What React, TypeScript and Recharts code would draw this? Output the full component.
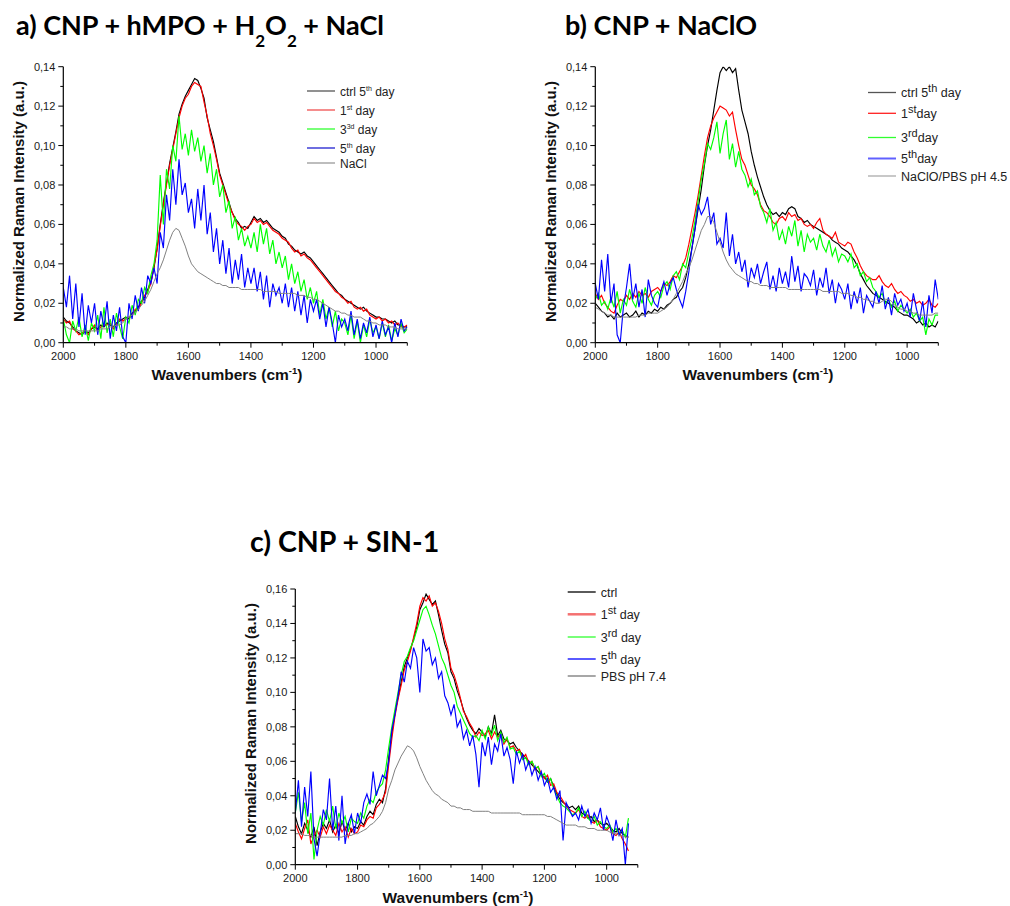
import { LineChart, Line, XAxis, YAxis } from 'recharts'

const wavenumbers = [
  2000, 1990, 1980, 1970, 1960, 1950, 1940, 1930, 1920, 1910,
  1900, 1890, 1880, 1870, 1860, 1850, 1840, 1830, 1820, 1810,
  1800, 1790, 1780, 1770, 1760, 1750, 1740, 1730, 1720, 1710,
  1700, 1690, 1680, 1670, 1660, 1650, 1640, 1630, 1620, 1610,
  1600, 1590, 1580, 1570, 1560, 1550, 1540, 1530, 1520, 1510,
  1500, 1490, 1480, 1470, 1460, 1450, 1440, 1430, 1420, 1410,
  1400, 1390, 1380, 1370, 1360, 1350, 1340, 1330, 1320, 1310,
  1300, 1290, 1280, 1270, 1260, 1250, 1240, 1230, 1220, 1210,
  1200, 1190, 1180, 1170, 1160, 1150, 1140, 1130, 1120, 1110,
  1100, 1090, 1080, 1070, 1060, 1050, 1040, 1030, 1020, 1010,
  1000, 990, 980, 970, 960, 950, 940, 930, 920, 910,
  900,
]

// a) CNP + hMPO + H2O2 + NaCl
const aCtrl = [
  .013, .011, .010, .008, .006, .005, .004, .006, .005, .007,
  .008, .007, .009, .008, .010, .009, .008, .010, .011, .012,
  .013, .012, .015, .016, .018, .021, .023, .027, .031, .038,
  .048, .060, .071, .081, .091, .099, .107, .116, .121, .125,
  .128, .131, .134, .133, .129, .124, .114, .108, .102, .094,
  .086, .081, .076, .071, .066, .063, .061, .058, .059, .058,
  .061, .064, .062, .063, .061, .062, .060, .058, .057, .056,
  .054, .053, .050, .049, .047, .046, .045, .046, .044, .043,
  .041, .039, .037, .035, .033, .031, .029, .027, .025, .024,
  .022, .021, .020, .019, .018, .017, .018, .016, .015, .014,
  .013, .013, .012, .012, .011, .010, .011, .009, .009, .008,
  .008,
]
const aDay1 = [
  .012, .010, .011, .007, .006, .004, .005, .006, .004, .007,
  .009, .006, .008, .009, .009, .010, .007, .009, .012, .011,
  .012, .013, .014, .017, .017, .020, .024, .026, .030, .039,
  .047, .059, .070, .080, .090, .098, .106, .114, .120, .124,
  .126, .130, .132, .131, .130, .122, .115, .106, .100, .093,
  .085, .080, .075, .070, .066, .062, .060, .059, .057, .059,
  .060, .063, .061, .062, .060, .061, .059, .057, .056, .055,
  .053, .052, .051, .048, .046, .047, .044, .045, .043, .042,
  .040, .038, .036, .034, .032, .030, .028, .026, .025, .023,
  .022, .020, .021, .018, .017, .018, .016, .017, .014, .013,
  .012, .013, .011, .012, .010, .011, .009, .010, .008, .008,
  .009,
]
const aDay3 = [
  .012, .004, .000, .011, .006, .013, .003, .009, .001, .010,
  .006, .014, .002, .018, .005, .012, .003, .015, .008, .002,
  .013, .010, .019, .014, .022, .020, .028, .025, .034, .040,
  .052, .085, .060, .088, .078, .100, .092, .115, .098, .106,
  .095, .108, .097, .104, .092, .100, .086, .096, .080, .088,
  .074, .080, .066, .072, .058, .064, .052, .058, .049, .054,
  .048, .056, .046, .060, .050, .058, .045, .052, .040, .046,
  .038, .044, .032, .040, .030, .036, .026, .032, .022, .028,
  .020, .026, .014, .022, .012, .018, .008, .016, .006, .012,
  .010, .004, .014, .002, .011, .000, .009, .003, .012, .005,
  .008, .002, .010, .003, .009, .001, .007, .004, .010, .005,
  .007,
]
const aDay5 = [
  .028, .018, .034, .012, .030, .008, .025, .004, .019, .010,
  .020, .004, .016, .008, .021, .002, .014, .006, .018, .003,
  .000, .020, .012, .024, .016, .028, .020, .034, .030, .038,
  .030, .056, .048, .075, .062, .088, .070, .093, .075, .081,
  .066, .073, .058, .078, .062, .080, .055, .066, .046, .058,
  .040, .052, .035, .048, .030, .042, .032, .045, .028, .038,
  .030, .038, .026, .036, .022, .034, .018, .030, .024, .028,
  .020, .030, .018, .028, .016, .026, .014, .024, .010, .022,
  .016, .022, .012, .020, .008, .018, .010, .000, .014, .008,
  .012, .006, .016, .004, .012, .002, .010, .005, .013, .003,
  .009, .002, .011, .004, .008, .000, .010, .003, .012, .006,
  .008,
]
const aNaCl = [
  .008, .008, .007, .007, .007, .006, .006, .006, .006, .006,
  .006, .006, .007, .007, .007, .008, .008, .009, .009, .010,
  .012, .013, .014, .015, .017, .019, .021, .024, .027, .031,
  .035, .038, .042, .047, .052, .056, .058, .057, .053, .049,
  .044, .040, .038, .036, .035, .034, .033, .032, .031, .030,
  .030, .029, .029, .028, .028, .028, .028, .027, .027, .027,
  .027, .027, .027, .027, .026, .026, .026, .026, .026, .025,
  .025, .025, .025, .025, .025, .024, .024, .024, .023, .023,
  .022, .022, .021, .020, .019, .018, .017, .016, .016, .015,
  .015, .014, .014, .013, .013, .013, .012, .011, .011, .010,
  .010, .009, .009, .009, .008, .008, .008, .007, .007, .007,
  .007,
]

// b) CNP + NaClO
const bCtrl = [
  .020, .018, .016, .015, .013, .014, .012, .015, .013, .014,
  .015, .013, .014, .016, .013, .015, .014, .016, .015, .017,
  .016, .018, .017, .019, .020, .022, .023, .026, .028, .033,
  .040, .048, .058, .068, .078, .090, .100, .108, .118, .128,
  .137, .140, .138, .140, .137, .139, .128, .118, .112, .106,
  .097, .090, .084, .079, .074, .070, .067, .065, .066, .064,
  .066, .065, .068, .069, .068, .064, .063, .061, .062, .060,
  .059, .058, .057, .056, .055, .054, .052, .051, .050, .048,
  .047, .046, .044, .042, .039, .035, .032, .029, .027, .025,
  .024, .023, .022, .021, .020, .019, .018, .016, .015, .014,
  .014, .013, .012, .010, .011, .009, .010, .008, .009, .008,
  .011,
]
const bDay1 = [
  .025, .022, .024, .020, .018, .016, .015, .019, .022, .021,
  .024, .022, .025, .023, .026, .024, .025, .023, .026, .027,
  .028, .026, .030, .029, .031, .034, .033, .036, .039, .043,
  .050, .058, .066, .075, .085, .095, .104, .110, .114, .117,
  .120, .119, .118, .115, .117, .108, .100, .093, .090, .085,
  .080, .078, .075, .070, .067, .066, .064, .061, .060, .063,
  .064, .062, .066, .064, .065, .062, .063, .060, .059, .060,
  .058, .061, .063, .057, .055, .054, .053, .056, .051, .050,
  .049, .051, .050, .046, .043, .039, .036, .034, .033, .032,
  .032, .034, .031, .029, .028, .030, .027, .025, .026, .024,
  .023, .021, .022, .020, .021, .019, .020, .022, .019, .018,
  .020,
]
const bDay3 = [
  .022, .025, .019, .021, .017, .023, .018, .026, .015, .022,
  .019, .027, .021, .018, .025, .020, .028, .022, .019, .024,
  .026, .023, .029, .031, .027, .034, .036, .032, .040, .038,
  .046, .053, .062, .072, .083, .091, .101, .098, .104, .112,
  .096, .106, .113, .093, .101, .089, .097, .088, .085, .079,
  .083, .075, .077, .069, .066, .061, .068, .057, .061, .052,
  .057, .050, .059, .054, .062, .049, .057, .046, .055, .051,
  .053, .047, .055, .049, .046, .052, .044, .048, .041, .045,
  .044, .041, .045, .038, .040, .034, .036, .031, .033, .028,
  .026, .023, .025, .020, .022, .018, .021, .016, .019, .017,
  .015, .017, .013, .015, .011, .013, .004, .012, .009, .014,
  .014,
]
const bDay5 = [
  .030, .022, .042, .026, .045, .020, .030, .004, .000, .018,
  .028, .040, .022, .030, .018, .027, .013, .032, .024, .020,
  .018, .026, .031, .024, .030, .033, .027, .022, .018, .026,
  .036, .048, .058, .070, .065, .068, .074, .060, .066, .050,
  .053, .048, .066, .044, .055, .040, .046, .036, .042, .028,
  .038, .033, .040, .030, .036, .041, .027, .034, .026, .038,
  .030, .036, .028, .044, .031, .039, .026, .035, .033, .029,
  .037, .024, .033, .028, .038, .025, .032, .020, .030, .027,
  .022, .030, .017, .026, .020, .028, .015, .024, .021, .018,
  .026, .020, .029, .017, .023, .014, .025, .019, .022, .016,
  .020, .013, .025, .017, .011, .021, .008, .024, .015, .032,
  .022,
]
const bNaClO = [
  .018, .017, .016, .015, .014, .014, .013, .013, .013, .013,
  .013, .013, .013, .013, .014, .014, .014, .015, .015, .015,
  .015, .016, .017, .018, .020, .022, .025, .028, .031, .035,
  .038, .042, .047, .052, .057, .060, .064, .064, .061, .056,
  .051, .046, .042, .039, .037, .035, .034, .033, .032, .031,
  .031, .030, .030, .029, .029, .029, .028, .028, .028, .028,
  .028, .028, .027, .027, .027, .027, .027, .027, .027, .027,
  .027, .027, .027, .026, .026, .026, .026, .026, .026, .025,
  .025, .025, .024, .024, .023, .023, .022, .022, .021, .021,
  .020, .020, .021, .022, .022, .021, .019, .018, .017, .017,
  .016, .016, .015, .015, .014, .014, .014, .014, .014, .015,
  .015,
]

// c) CNP + SIN-1
const cCtrl = [
  .028, .022, .018, .024, .020, .016, .022, .011, .019, .024,
  .021, .026, .019, .023, .018, .025, .020, .024, .019, .022,
  .021, .025, .023, .028, .031, .029, .035, .038, .036, .044,
  .062, .076, .088, .097, .106, .115, .120, .125, .131, .138,
  .148, .152, .157, .154, .151, .153, .145, .136, .128, .123,
  .112, .108, .101, .096, .090, .085, .081, .078, .076, .079,
  .077, .074, .080, .076, .087, .075, .078, .073, .072, .070,
  .071, .068, .066, .064, .062, .060, .058, .056, .054, .052,
  .051, .048, .050, .045, .041, .038, .036, .035, .033, .034,
  .032, .034, .030, .029, .027, .028, .025, .026, .024, .023,
  .024, .022, .020, .019, .021, .018, .017, .016, null, null,
  null,
]
const cDay1 = [
  .024, .019, .015, .021, .026, .012, .017, .020, .016, .022,
  .018, .023, .020, .017, .024, .019, .022, .016, .021, .018,
  .019, .023, .022, .026, .028, .027, .033, .035, .038, .042,
  .058, .073, .086, .096, .104, .113, .118, .124, .132, .140,
  .150, .155, .153, .156, .150, .152, .147, .140, .131, .125,
  .114, .110, .104, .097, .089, .086, .082, .079, .074, .077,
  .075, .076, .078, .073, .077, .074, .076, .070, .073, .068,
  .069, .066, .067, .062, .064, .059, .060, .055, .057, .053,
  .050, .052, .046, .047, .042, .040, .037, .034, .032, .031,
  .030, .032, .028, .027, .029, .025, .024, .026, .022, .021,
  .020, .022, .018, .017, .019, .015, .012, .008, null, null,
  null,
]
const cDay3 = [
  .030, .042, .025, .036, .018, .030, .003, .020, .028, .023,
  .032, .025, .034, .021, .030, .024, .028, .019, .027, .025,
  .024, .030, .027, .034, .038, .036, .042, .045, .047, .055,
  .068, .080, .090, .100, .110, .118, .121, .126, .130, .136,
  .142, .148, .150, .145, .139, .134, .127, .120, .116, .110,
  .104, .100, .092, .088, .084, .080, .076, .074, .075, .072,
  .078, .073, .080, .075, .081, .072, .077, .071, .074, .067,
  .068, .064, .066, .061, .062, .058, .060, .056, .057, .051,
  .053, .048, .050, .044, .040, .036, .034, .033, .031, .029,
  .030, .033, .028, .031, .027, .025, .028, .023, .025, .022,
  .021, .023, .019, .021, .018, .020, .016, .027, null, null,
  null,
]
const cDay5 = [
  .030, .049, .022, .045, .028, .054, .015, .005, .018, .032,
  .026, .050, .020, .034, .014, .040, .012, .024, .029, .018,
  .030, .024, .036, .041, .035, .054, .040, .046, .052, .050,
  .060, .078, .087, .098, .112, .106, .118, .114, .126, .120,
  .100, .131, .124, .126, .116, .120, .108, .112, .098, .094,
  .087, .093, .080, .084, .073, .078, .069, .075, .064, .045,
  .071, .063, .074, .058, .070, .066, .076, .063, .068, .061,
  .047, .066, .059, .064, .055, .060, .052, .057, .049, .054,
  .046, .050, .042, .045, .038, .043, .014, .036, .032, .028,
  .030, .026, .034, .028, .032, .024, .030, .026, .033, .020,
  .028, .023, .014, .026, .017, .021, .000, .024, null, null,
  null,
]
const cPBS = [
  .018, .018, .018, .017, .017, .017, .016, .016, .016, .016,
  .016, .016, .016, .016, .016, .016, .017, .017, .017, .018,
  .018, .019, .020, .021, .023, .024, .026, .028, .031, .036,
  .044, .049, .055, .059, .063, .066, .069, .068, .066, .062,
  .057, .053, .049, .046, .043, .041, .040, .038, .037, .036,
  .034, .034, .033, .033, .032, .032, .032, .031, .031, .031,
  .031, .031, .031, .030, .030, .030, .030, .030, .030, .030,
  .030, .030, .030, .029, .029, .029, .029, .029, .029, .029,
  .029, .028, .028, .027, .026, .025, .024, .023, .023, .023,
  .023, .022, .022, .022, .021, .021, .021, .020, .020, .020,
  .020, .019, .018, .018, .017, .017, .016, .016, null, null,
  null,
]

const xTicks = [2000, 1900, 1800, 1700, 1600, 1500, 1400, 1300, 1200, 1100, 1000, 900]
const yTicks14 = [0, 0.01, 0.02, 0.03, 0.04, 0.05, 0.06, 0.07, 0.08, 0.09, 0.1, 0.11, 0.12, 0.13, 0.14]
const yTicks16 = [0, 0.01, 0.02, 0.03, 0.04, 0.05, 0.06, 0.07, 0.08, 0.09, 0.1, 0.11, 0.12, 0.13, 0.14, 0.15, 0.16]

const COLORS = { ctrl: '#000000', day1: '#ff0000', day3: '#00ff00', day5: '#0000ff', ref: '#808080' }
const ARIAL = '"Liberation Sans", Arial, sans-serif'

function buildRows(ctrl: (number | null)[], day1: (number | null)[], day3: (number | null)[], day5: (number | null)[], ref: (number | null)[]) {
  return wavenumbers.map((wn, i) => ({ wn, ctrl: ctrl[i], day1: day1[i], day3: day3[i], day5: day5[i], ref: ref[i] }))
}

function XTick({ x, y, payload }: any) {
  const major = payload.value % 200 === 0
  return (
    <g>
      <line x1={x} x2={x} y1={y} y2={y + (major ? 5 : 3)} stroke="#000" strokeWidth={1} />
      {major && (
        <text x={x} y={y + 17} textAnchor="middle" fontSize={11} fontFamily={ARIAL} fill="#1a1a1a">
          {payload.value}
        </text>
      )}
    </g>
  )
}

function YTick({ x, y, payload }: any) {
  const major = Math.round(payload.value * 100) % 2 === 0
  return (
    <g>
      <line x1={x} x2={x - (major ? 5 : 3)} y1={y} y2={y} stroke="#000" strokeWidth={1} />
      {major && (
        <text x={x - 8} y={y + 4} textAnchor="end" fontSize={11} fontFamily={ARIAL} fill="#1a1a1a">
          {payload.value.toFixed(2).replace('.', ',')}
        </text>
      )}
    </g>
  )
}

function Panel({ left, top, rows, yMax, yTicks, marginTop, axisWidth, marginRight, axisHeight }: any) {
  return (
    <div style={{ position: 'absolute', left, top, width: 420, height: 400 }}>
      <LineChart width={420} height={400} data={rows} margin={{ top: marginTop, right: marginRight, bottom: 0, left: 0 }}>
        <XAxis
          dataKey="wn"
          type="number"
          domain={[900, 2000]}
          reversed
          allowDataOverflow
          ticks={xTicks}
          interval={0}
          height={axisHeight}
          tickSize={0}
          tickMargin={0}
          tickLine={false}
          tick={<XTick />}
          axisLine={{ stroke: '#000', strokeWidth: 1.2 }}
        />
        <YAxis
          type="number"
          domain={[0, yMax]}
          allowDataOverflow
          ticks={yTicks}
          interval={0}
          width={axisWidth}
          tickSize={0}
          tickMargin={0}
          tickLine={false}
          tick={<YTick />}
          axisLine={{ stroke: '#000', strokeWidth: 1.2 }}
        />
        <Line dataKey="ctrl" stroke={COLORS.ctrl} strokeWidth={1.15} dot={false} isAnimationActive={false} />
        <Line dataKey="day1" stroke={COLORS.day1} strokeWidth={1.15} dot={false} isAnimationActive={false} />
        <Line dataKey="day3" stroke={COLORS.day3} strokeWidth={1.15} dot={false} isAnimationActive={false} />
        <Line dataKey="day5" stroke={COLORS.day5} strokeWidth={1.15} dot={false} isAnimationActive={false} />
        <Line dataKey="ref" stroke={COLORS.ref} strokeWidth={1} dot={false} isAnimationActive={false} />
      </LineChart>
    </div>
  )
}

// legend entry: base text, raised superscript, then the rest of the label
function LegendRow({ x, y, color, width = 1.3, size, supSize, base, sup, rest }: any) {
  return (
    <g>
      <line x1={x} x2={x + 28} y1={y} y2={y} stroke={color} strokeWidth={width} />
      <text x={x + 33} y={y + 4.5} fontSize={size} fontFamily={ARIAL} fill="#222">
        {base}
        {sup && <tspan fontSize={supSize} dy={-5}>{sup}</tspan>}
        {sup && rest && <tspan dy={5}>{rest}</tspan>}
      </text>
    </g>
  )
}

function AxisTitles({ cx, cy, ly, lx }: any) {
  return (
    <g fontFamily={ARIAL} fontWeight="bold" fill="#111">
      <text x={cx} y={cy} textAnchor="middle" fontSize={15.5}>
        Wavenumbers (cm<tspan fontSize={9.5} dy={-6}>-1</tspan><tspan dy={6}>)</tspan>
      </text>
      <text transform={`translate(${lx},${ly}) rotate(-90)`} textAnchor="middle" fontSize={15}>
        Normalized Raman Intensity (a.u.)
      </text>
    </g>
  )
}

export default function App() {
  const rowsA = buildRows(aCtrl, aDay1, aDay3, aDay5, aNaCl)
  const rowsB = buildRows(bCtrl, bDay1, bDay3, bDay5, bNaClO)
  const rowsC = buildRows(cCtrl, cDay1, cDay3, cDay5, cPBS)
  const titleFont = 'Lato, "Open Sans", sans-serif'
  return (
    <div style={{ position: 'absolute', left: 0, top: 0, width: 1010, height: 906, background: '#fff', overflow: 'hidden' }}>
      <Panel left={0} top={0} rows={rowsA} yMax={0.14} yTicks={yTicks14} marginTop={66.7} axisWidth={63.3} marginRight={12.7} axisHeight={57.3} />
      <Panel left={530} top={0} rows={rowsB} yMax={0.14} yTicks={yTicks14} marginTop={66.7} axisWidth={65.3} marginRight={11.7} axisHeight={57.3} />
      <Panel left={230} top={520} rows={rowsC} yMax={0.16} yTicks={yTicks16} marginTop={69} axisWidth={65.3} marginRight={12.2} axisHeight={55.3} />

      <svg width={1010} height={906} style={{ position: 'absolute', left: 0, top: 0, pointerEvents: 'none' }}>
        <g fontFamily={titleFont} fontWeight={700} fill="#000">
          <text x={16} y={35} fontSize={27}>
            a) CNP + hMPO + H<tspan fontSize={17} dy={12}>2</tspan><tspan dy={-12}>O</tspan><tspan fontSize={17} dy={12}>2</tspan><tspan dy={-12}> + NaCl</tspan>
          </text>
          <text x={565} y={35} fontSize={27}>b) CNP + NaClO</text>
          <text x={250} y={552} fontSize={28.5}>c) CNP + SIN-1</text>
        </g>

        <AxisTitles cx={227} cy={380} lx={24} ly={201.5} />
        <AxisTitles cx={758} cy={380} lx={556} ly={201.5} />
        <AxisTitles cx={458} cy={903} lx={256} ly={723.5} />

        <LegendRow x={307} y={91} color="#555" size={12} supSize={7} base="ctrl 5" sup="th" rest=" day" />
        <LegendRow x={307} y={110} color="#f05050" size={12} supSize={7} base="1" sup="st" rest=" day" />
        <LegendRow x={307} y={129} color="#30ff30" size={12} supSize={7} base="3" sup="3d" rest=" day" />
        <LegendRow x={307} y={148} color="#2020d0" size={12} supSize={7} base="5" sup="th" rest=" day" />
        <LegendRow x={307} y={163} color="#999" size={12} base="NaCl" />

        <LegendRow x={868} y={92.5} color="#555" size={12.5} supSize={11} base="ctrl 5" sup="th" rest=" day" />
        <LegendRow x={868} y={113.3} color="#ff2020" size={12.5} supSize={11} base="1" sup="st" rest="day" />
        <LegendRow x={868} y={137.5} color="#30ff30" size={12.5} supSize={11} base="3" sup="rd" rest="day" />
        <LegendRow x={868} y={158.5} color="#6060ff" width={2} size={12.5} supSize={11} base="5" sup="th" rest="day" />
        <LegendRow x={868} y={176} color="#aaa" size={12.5} base="NaClO/PBS pH 4.5" />

        <LegendRow x={567.7} y={592} color="#000" size={12.5} base="ctrl" />
        <LegendRow x={567.7} y={614.3} color="#f47070" width={2.5} size={12.5} supSize={11} base="1" sup="st" rest=" day" />
        <LegendRow x={567.7} y={637} color="#30ff30" size={12.5} supSize={11} base="3" sup="rd" rest=" day" />
        <LegendRow x={567.7} y={659} color="#0000ff" size={12.5} supSize={11} base="5" sup="th" rest=" day" />
        <LegendRow x={567.7} y={676} color="#777" size={12.5} base="PBS pH 7.4" />
      </svg>
    </div>
  )
}
